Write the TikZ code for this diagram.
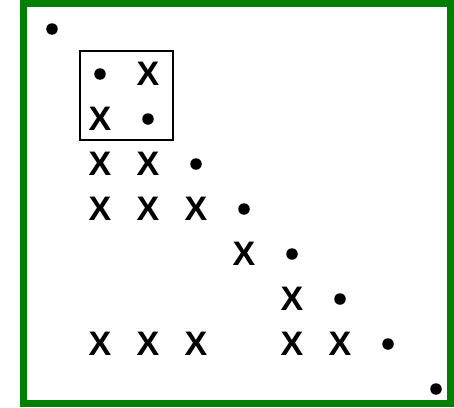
\documentclass[tikz,border=0pt]{standalone}
\usepackage{fontspec}
\setmainfont{Liberation Sans}
\definecolor{framegreen}{RGB}{0,128,0}
\tikzset{
  cell/.style={inner sep=0pt, font=\fontsize{34}{40}\selectfont\bfseries},
  diag/.style={circle, fill, inner sep=0pt, minimum size=11.5pt},
}
\begin{document}
\begin{tikzpicture}[x=48pt, y=-45pt]
			\useasboundingbox (-1.0833,-0.6444) rectangle (8.375,8.4);
			\draw [framegreen, line width = 7pt] (-0.5833,-0.5556) rectangle (8.2917,8.311);
			
			\node[diag] (d00) at (0,0) {};
			
			\node[diag] (d11) at (1,1) {};
			\node[cell] (x12) at (2,1) {X};
			\node[cell] (x21) at (1,2) {X};
			\node[diag] (d22) at (2,2) {};
			\draw [line width = 1.5pt] (0.5833,0.4889) rectangle (2.5208,2.4667);
			
			\node[cell] (x31) at (1,3) {X};
			\node[cell] (x32) at (2,3) {X};
			\node[diag] (d33) at (3,3) {};
			
			\node[cell] (x41) at (1,4) {X};
			\node[cell] (x42) at (2,4) {X};
			\node[cell] (x43) at (3,4) {X};
			\node[diag] (d44) at (4,4) {};
			
			\node[cell] (x54) at (4,5) {X};
			\node[diag] (d55) at (5,5) {};
			
			\node[cell] (x65) at (5,6) {X};
			\node[diag] (d66) at (6,6) {};
			
			\node[cell] (x71) at (1,7) {X};
			\node[cell] (x72) at (2,7) {X};
			\node[cell] (x73) at (3,7) {X};
			\node[cell] (x75) at (5,7) {X};
			\node[cell] (x76) at (6,7) {X};
			\node[diag] (d77) at (7,7) {};
			
			\node[diag] (d88) at (8,8) {};
			
		\end{tikzpicture}
\end{document}
